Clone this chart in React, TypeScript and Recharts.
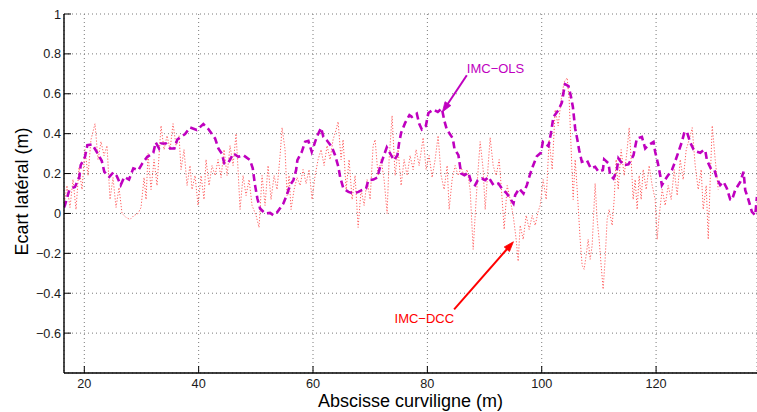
import React from 'react';
import { LineChart, Line, XAxis, YAxis, CartesianGrid, ReferenceLine } from 'recharts';

// IMC-OLS (magenta dashed) : abscisse curviligne (m) / écart latéral (m)
const olsX = [16.45, 16.62, 17.38, 17.80, 18.37, 19.13, 19.37, 20.12, 20.53, 21.40, 22.17, 23.05, 23.50, 24.38, 25.08, 25.67, 26.37, 27.00, 27.82, 28.57, 29.45, 30.15, 31.02, 32.07, 32.49, 33.07, 33.42, 34.29, 34.99, 35.75, 36.27, 37.62, 38.49, 39.67, 40.82, 41.70, 42.87, 43.45, 44.04, 44.49, 45.19, 46.07, 46.94, 47.82, 48.99, 49.46, 49.86, 50.27, 50.74, 51.61, 52.49, 53.07, 53.66, 54.82, 55.41, 55.99, 56.57, 57.04, 57.27, 58.04, 58.61, 59.19, 59.78, 60.66, 61.41, 61.81, 62.41, 63.28, 63.86, 64.44, 64.74, 65.31, 66.19, 67.06, 67.94, 68.53, 69.28, 69.68, 70.56, 71.26, 71.73, 72.31, 72.90, 73.66, 74.18, 74.76, 75.06, 75.41, 76.11, 76.86, 77.28, 78.15, 78.56, 79.03, 79.73, 80.18, 81.06, 81.83, 82.53, 82.98, 83.40, 84.45, 84.73, 85.43, 85.90, 86.48, 87.18, 87.60, 88.35, 88.83, 89.53, 90.10, 90.68, 91.56, 92.43, 93.03, 93.90, 94.65, 95.06, 95.36, 96.06, 96.81, 97.40, 97.86, 98.45, 99.15, 99.85, 100.20, 101.18, 101.60, 102.05, 102.93, 103.52, 103.80, 104.10, 104.68, 105.10, 105.45, 105.85, 106.25, 106.55, 107.02, 107.89, 108.59, 109.34, 109.93, 110.69, 110.92, 111.68, 111.97, 112.55, 113.14, 113.42, 114.30, 115.17, 116.05, 116.64, 117.52, 118.10, 118.67, 119.55, 119.84, 120.32, 120.72, 121.01, 121.89, 122.76, 123.22, 123.92, 124.51, 124.97, 125.39, 125.97, 126.55, 127.14, 127.72, 128.30, 128.59, 128.89, 129.64, 130.22, 130.64, 131.22, 131.80, 132.39, 132.97, 133.27, 133.84, 134.72, 135.30, 135.59, 136.17, 136.76, 137.34, 137.64];
const olsY = [0.03, 0.042, 0.117, 0.127, 0.133, 0.183, 0.242, 0.284, 0.342, 0.346, 0.309, 0.264, 0.209, 0.183, 0.206, 0.188, 0.142, 0.183, 0.170, 0.226, 0.217, 0.251, 0.284, 0.304, 0.356, 0.326, 0.351, 0.351, 0.326, 0.326, 0.371, 0.398, 0.431, 0.418, 0.448, 0.423, 0.376, 0.326, 0.301, 0.251, 0.254, 0.301, 0.284, 0.292, 0.267, 0.226, 0.142, 0.075, 0.025, 0.000, 0.003, -0.009, 0.003, 0.050, 0.092, 0.142, 0.167, 0.217, 0.267, 0.309, 0.359, 0.364, 0.309, 0.384, 0.429, 0.384, 0.367, 0.334, 0.292, 0.234, 0.183, 0.125, 0.108, 0.100, 0.108, 0.117, 0.125, 0.167, 0.170, 0.180, 0.234, 0.284, 0.331, 0.292, 0.267, 0.292, 0.354, 0.404, 0.454, 0.493, 0.484, 0.501, 0.451, 0.421, 0.438, 0.504, 0.521, 0.509, 0.526, 0.464, 0.421, 0.376, 0.326, 0.292, 0.201, 0.192, 0.204, 0.163, 0.142, 0.167, 0.175, 0.167, 0.183, 0.142, 0.150, 0.125, 0.100, 0.067, 0.050, 0.092, 0.125, 0.100, 0.142, 0.187, 0.237, 0.287, 0.304, 0.359, 0.337, 0.401, 0.484, 0.518, 0.556, 0.605, 0.648, 0.638, 0.588, 0.534, 0.426, 0.367, 0.317, 0.259, 0.267, 0.226, 0.234, 0.209, 0.217, 0.271, 0.251, 0.192, 0.175, 0.217, 0.276, 0.242, 0.246, 0.292, 0.376, 0.384, 0.326, 0.342, 0.359, 0.309, 0.251, 0.192, 0.142, 0.183, 0.217, 0.251, 0.309, 0.359, 0.409, 0.409, 0.356, 0.321, 0.309, 0.304, 0.317, 0.317, 0.267, 0.221, 0.217, 0.175, 0.142, 0.158, 0.125, 0.070, 0.067, 0.117, 0.158, 0.209, 0.117, 0.067, 0.008, -0.009, 0.083, 0.092];

// IMC-DCC (red dotted)
const dccX = [16.45, 16.97, 17.50, 18.02, 18.55, 19.07, 19.60, 20.12, 20.65, 21.17, 21.87, 22.40, 22.92, 23.45, 23.97, 24.50, 25.02, 25.55, 26.07, 26.60, 27.30, 28.00, 28.70, 29.40, 29.92, 30.45, 30.80, 31.15, 31.67, 32.20, 32.72, 33.42, 33.95, 34.47, 35.00, 35.52, 36.05, 36.57, 36.92, 37.44, 37.97, 38.49, 38.84, 39.37, 39.89, 40.42, 40.94, 41.29, 41.82, 42.34, 42.87, 43.39, 43.92, 44.44, 44.97, 45.49, 46.02, 46.54, 46.89, 47.24, 47.77, 48.29, 48.82, 49.34, 50.04, 50.56, 51.09, 51.61, 52.14, 52.66, 53.19, 53.71, 54.24, 54.59, 55.11, 55.46, 55.81, 56.16, 56.69, 57.21, 57.74, 58.26, 58.79, 59.31, 59.84, 60.36, 60.89, 61.41, 61.94, 62.46, 62.99, 63.51, 64.04, 64.39, 64.91, 65.26, 65.79, 66.31, 66.84, 67.36, 67.89, 68.41, 68.94, 69.46, 69.99, 70.51, 70.86, 71.38, 71.91, 72.43, 72.96, 73.31, 73.83, 74.36, 74.88, 75.41, 75.93, 76.46, 76.98, 77.51, 78.03, 78.56, 79.26, 79.78, 80.31, 80.83, 81.36, 81.88, 82.41, 82.93, 83.46, 83.81, 84.33, 84.86, 85.38, 85.91, 86.43, 86.96, 87.48, 88.01, 88.53, 88.88, 89.23, 89.76, 90.11, 90.63, 90.98, 91.51, 92.03, 92.56, 93.08, 93.43, 93.96, 94.48, 95.01, 95.53, 95.88, 96.23, 96.76, 97.28, 97.81, 98.33, 98.86, 99.38, 99.73, 100.25, 100.78, 101.30, 101.83, 102.35, 102.88, 103.40, 103.93, 104.45, 104.80, 105.15, 105.50, 105.85, 106.20, 106.72, 107.07, 107.42, 107.77, 108.12, 108.47, 108.82, 109.34, 109.69, 110.04, 110.39, 110.74, 111.09, 111.44, 111.79, 112.32, 112.67, 113.02, 113.37, 113.89, 114.42, 114.94, 115.29, 115.64, 115.99, 116.34, 116.69, 117.04, 117.39, 117.74, 118.27, 118.79, 119.32, 119.84, 120.19, 120.54, 121.07, 121.59, 122.12, 122.64, 123.17, 123.69, 124.22, 124.74, 125.27, 125.79, 126.32, 126.84, 127.37, 127.89, 128.24, 128.77, 129.12, 129.47, 129.82, 130.34, 130.87];
const dccY = [0.04, 0.14, 0.03, 0.17, 0.02, 0.23, 0.12, 0.32, 0.19, 0.37, 0.45, 0.27, 0.36, 0.29, 0.34, 0.07, 0.18, 0.03, 0.13, 0.00, -0.02, -0.03, -0.01, 0.00, 0.03, 0.18, 0.07, 0.30, 0.12, 0.27, 0.14, 0.44, 0.32, 0.39, 0.32, 0.45, 0.34, 0.39, 0.22, 0.32, 0.14, 0.24, 0.12, 0.19, 0.04, 0.19, 0.07, 0.27, 0.14, 0.24, 0.19, 0.27, 0.18, 0.32, 0.19, 0.34, 0.24, 0.40, 0.22, 0.02, 0.19, 0.09, 0.17, 0.04, -0.01, -0.07, 0.19, 0.04, 0.24, 0.07, 0.19, 0.12, 0.29, 0.43, 0.32, 0.09, 0.19, 0.02, 0.12, 0.18, 0.14, 0.22, 0.15, 0.22, 0.07, 0.19, 0.27, 0.32, 0.24, 0.34, 0.27, 0.37, 0.42, 0.46, 0.27, 0.37, 0.12, 0.27, 0.07, 0.19, -0.07, 0.12, 0.04, 0.17, 0.07, 0.34, 0.37, 0.19, 0.27, 0.17, 0.00, 0.27, 0.49, 0.19, 0.32, 0.14, 0.27, 0.19, 0.29, 0.22, 0.32, 0.24, 0.38, 0.22, 0.29, 0.18, 0.27, 0.39, 0.19, 0.12, 0.24, 0.02, 0.17, 0.24, 0.19, 0.23, 0.19, 0.22, 0.12, -0.18, 0.07, 0.22, 0.36, 0.22, 0.02, 0.24, 0.38, 0.24, 0.19, 0.27, 0.07, -0.08, 0.14, 0.07, -0.01, -0.13, -0.24, -0.06, -0.13, -0.01, -0.08, -0.01, -0.06, 0.01, 0.04, 0.17, 0.07, 0.37, 0.22, 0.52, 0.44, 0.57, 0.66, 0.68, 0.57, 0.32, 0.07, 0.27, 0.12, -0.13, -0.26, -0.28, -0.21, -0.13, -0.23, -0.16, 0.15, -0.03, -0.13, -0.26, -0.38, -0.23, -0.03, 0.02, -0.06, 0.07, 0.27, 0.12, 0.32, 0.19, 0.32, 0.43, 0.27, 0.07, 0.17, 0.02, 0.19, 0.07, 0.22, 0.12, 0.24, 0.14, 0.07, -0.13, -0.01, 0.12, 0.04, 0.14, 0.07, 0.22, 0.09, 0.27, 0.17, 0.32, 0.37, 0.43, 0.24, 0.12, 0.22, 0.02, 0.14, -0.13, 0.17, 0.44, 0.27, 0.12];

const xTicks = [20, 40, 60, 80, 100, 120];
const yTicks = [-0.6, -0.4, -0.2, 0, 0.2, 0.4, 0.6, 0.8, 1];
const xDomain = [16.45, 137.65];
const yDomain = [-0.8, 1];

const seriesNames = ['IMC−OLS', 'IMC−DCC'];
// annotation arrows (tail -> head) in data units
const olsArrow = [{ x: 86.9, y: 0.693 }, { x: 82.63, y: 0.509 }];
const dccArrow = [{ x: 84.68, y: -0.481 }, { x: 95.05, y: -0.142 }];

const olsData = olsX.map((x, i) => ({ x, y: olsY[i] }));
const dccData = dccX.map((x, i) => ({ x, y: dccY[i] }));

const OLS_COLOR = '#bf00bf';
const DCC_COLOR = '#ff0000';
const FONT = '"Liberation Sans", Arial, Helvetica, sans-serif';

const makeArrow = (color: string, label: string, side: 'above' | 'below') => (p: any) => {
  const { x1, y1, x2, y2 } = p;
  const dx = x2 - x1;
  const dy = y2 - y1;
  const len = Math.hypot(dx, dy) || 1;
  const ux = dx / len;
  const uy = dy / len;
  const hl = 10;
  const hw = 3.5;
  const bx = x2 - ux * hl;
  const by = y2 - uy * hl;
  const pts = `${x2},${y2} ${bx - uy * hw},${by + ux * hw} ${bx + uy * hw},${by - ux * hw}`;
  return (
    <g>
      <line x1={x1} y1={y1} x2={bx + ux * 2} y2={by + uy * 2} stroke={color} strokeWidth={2} />
      <polygon points={pts} fill={color} stroke={color} strokeWidth={0.8} />
      {side === 'above' ? (
        <text x={x1} y={y1 - 2.5} fill={color} fontSize={13} fontFamily={FONT} textAnchor="start">
          {label}
        </text>
      ) : (
        <text x={x1} y={y1 + 13.4} fill={color} fontSize={13} fontFamily={FONT} textAnchor="end">
          {label}
        </text>
      )}
    </g>
  );
};

const fmt = (v: number) => String(v).replace('-', '−');

export default function App() {
  return (
    <div style={{ position: 'absolute', left: 0, top: 0, width: 757, height: 412, overflow: 'hidden', background: '#fff' }}>
      <LineChart
        width={757}
        height={412}
        margin={{ top: 14, right: 0, bottom: 0, left: 0 }}
        style={{ fontFamily: FONT }}
      >
        <CartesianGrid stroke="#7a7a7a" strokeDasharray="1 3" strokeWidth={1} />
        <XAxis
          dataKey="x"
          type="number"
          domain={xDomain}
          allowDataOverflow
          ticks={xTicks}
          height={39}
          stroke="#000"
          axisLine={{ stroke: '#000', strokeWidth: 1.4 }}
          tickLine={{ stroke: '#000', strokeWidth: 1 }}
          tickSize={-7}
          tickMargin={12.5}
          tick={{ fill: '#1a1a1a', fontSize: 12.7, fontFamily: FONT }}
          label={{
            content: (props: any) => {
              const vb = props.viewBox || { x: 64, y: 373, width: 693, height: 39 };
              return (
                <text x={vb.x + vb.width / 2} y={vb.y + 34} textAnchor="middle" fontSize={18} fontFamily={FONT} fill="#000">
                  Abscisse curviligne (m)
                </text>
              );
            },
          }}
        />
        <XAxis
          xAxisId="top"
          dataKey="x"
          type="number"
          orientation="top"
          domain={xDomain}
          allowDataOverflow
          ticks={xTicks}
          height={0}
          tick={false}
          axisLine={{ stroke: '#000', strokeWidth: 1.4 }}
          tickLine={{ stroke: '#000', strokeWidth: 1 }}
          tickSize={-7}
        />
        <YAxis
          type="number"
          domain={yDomain}
          allowDataOverflow
          ticks={yTicks}
          width={64}
          axisLine={{ stroke: '#000', strokeWidth: 1.4 }}
          tickLine={{ stroke: '#000', strokeWidth: 1 }}
          tickSize={-7}
          tickMargin={10}
          tickFormatter={fmt}
          tick={{ fill: '#1a1a1a', fontSize: 12.7, fontFamily: FONT }}
          label={{
            content: (props: any) => {
              const vb = props.viewBox || { x: 0, y: 14, width: 64, height: 359 };
              const cx = vb.x + 28;
              const cy = vb.y + vb.height / 2 - 2;
              return (
                <text x={cx} y={cy} transform={`rotate(-90 ${cx} ${cy})`} textAnchor="middle" fontSize={18} fontFamily={FONT} fill="#000">
                  Ecart latéral (m)
                </text>
              );
            },
          }}
        />
        <Line
          data={dccData}
          dataKey="y"
          name={seriesNames[1]}
          type="linear"
          stroke="#ff6060"
          strokeWidth={1}
          strokeDasharray="1.2 1.8"
          dot={false}
          activeDot={false}
          isAnimationActive={false}
        />
        <Line
          data={olsData}
          dataKey="y"
          name={seriesNames[0]}
          type="linear"
          stroke={OLS_COLOR}
          strokeWidth={2.6}
          strokeDasharray="7 4"
          dot={false}
          activeDot={false}
          isAnimationActive={false}
        />
        <ReferenceLine
          segment={olsArrow}
          ifOverflow="visible"
          shape={makeArrow(OLS_COLOR, seriesNames[0], 'above')}
        />
        <ReferenceLine
          segment={dccArrow}
          ifOverflow="visible"
          shape={makeArrow(DCC_COLOR, seriesNames[1], 'below')}
        />
      </LineChart>
    </div>
  );
}
